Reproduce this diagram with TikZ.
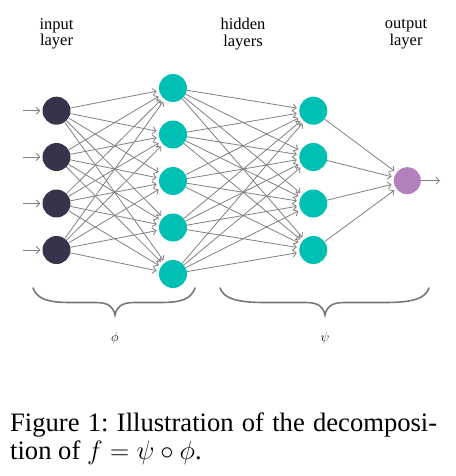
\RequirePackage{fix-cm}
\documentclass[tikz,border=0pt]{standalone}
\usepackage{fontspec}
\setmainfont{Liberation Serif}
\usetikzlibrary{arrows.meta}
\definecolor{inpc}{HTML}{36344A}
\definecolor{hidc}{HTML}{00BFB3}
\definecolor{outc}{HTML}{B180BD}
\definecolor{edgec}{HTML}{808080}
\definecolor{bracec}{HTML}{777777}
\begin{document}
\frenchspacing
\begin{tikzpicture}[x=1pt,y=-1pt,
  neuron/.style={circle,minimum size=28pt,inner sep=0pt,draw=none},
  inneuron/.style={neuron,fill=inpc},
  hidneuron/.style={neuron,fill=hidc},
  outneuron/.style={neuron,minimum size=27pt,fill=outc},
  conn/.style={-{Straight Barb[length=3.5pt,width=7pt]},draw=edgec,line width=0.8pt,shorten >=2.5pt},
  layerlabel/.style={align=center,font=\fontsize{16.5}{16.5}\selectfont,inner sep=0pt},
  bracepath/.style={draw=bracec,line width=1.6pt,line cap=round},
  greek/.style={font=\fontsize{13}{13}\selectfont,inner sep=0pt},
  captiontext/.style={anchor=base west,inner sep=0pt,font=\fontsize{26.6}{27.6}\selectfont}]
\useasboundingbox (0,0) rectangle (455,476);
% input layer
\foreach \i/\y in {1/110.7,2/157,3/203.5,4/250}{
  \node[inneuron] (I\i) at (56.5,\y) {};
  \coordinate (S\i) at (22.5,\y);
  \draw[conn,shorten >=2pt] (S\i) -- (I\i);
}
% hidden layer 1
\foreach \i/\y in {1/88,2/134.5,3/181,4/227.5,5/274}{
  \node[hidneuron] (H\i) at (173,\y) {};
}
% hidden layer 2
\foreach \i/\y in {1/110.7,2/157,3/203.5,4/250}{
  \node[hidneuron] (G\i) at (313.3,\y) {};
}
% output
\node[outneuron] (O) at (407.3,180.7) {};
\coordinate (E) at (440,180.7);
\draw[conn,shorten >=0pt] (O) -- (E);
% connections
\foreach \a in {1,...,4}{\foreach \b in {1,...,5}{\draw[conn] (I\a) -- (H\b);}}
\foreach \a in {1,...,5}{\foreach \b in {1,...,4}{\draw[conn] (H\a) -- (G\b);}}
\foreach \a in {1,...,4}{\draw[conn] (G\a) -- (O);}
% labels
\node[layerlabel] (Lin) at (56.5,34) {input\\layer};
\node[layerlabel] (Lhid) at (243,34) {hidden\\layers};
\node[layerlabel] (Lout) at (406,34) {output\\layer};
% braces
\draw[bracepath] (33,288) .. controls (37,299) and (48,302.5) .. (70,302.5) -- (95,302.5)
  .. controls (108,302.5) and (113,306) .. (115,315)
  .. controls (117,306) and (122,302.5) .. (135,302.5) -- (160,302.5)
  .. controls (182,302.5) and (191,299) .. (195,288);
\draw[bracepath] (220,288) .. controls (224,299) and (238,302.5) .. (265,302.5) -- (305,302.5)
  .. controls (318,302.5) and (323,306) .. (325,315)
  .. controls (327,306) and (332,302.5) .. (345,302.5) -- (385,302.5)
  .. controls (412,302.5) and (425,299) .. (429,288);
\node[greek] (phi) at (115,338) {$\phi$};
\node[greek] (psi) at (325,338) {$\psi$};
% caption
\node[captiontext] (Cap) at (10,431.7) {\vtop{\hbox{\makebox[427pt][s]{Figure 1: Illustration of the decomposi-}}\hbox{tion of $f=\psi\circ\phi$.}}};
\end{tikzpicture}
\end{document}
